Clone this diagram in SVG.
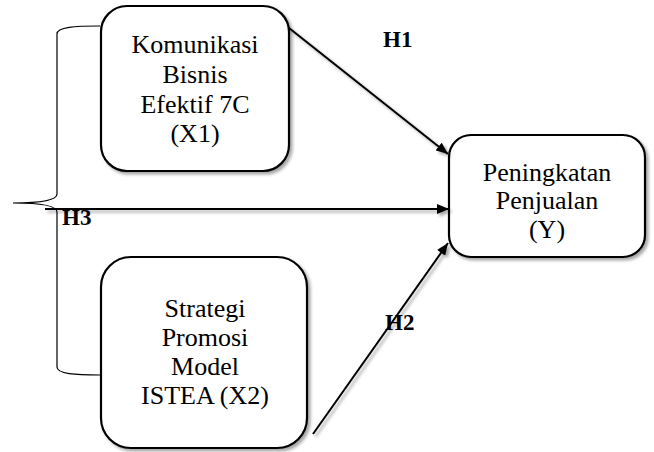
<svg xmlns="http://www.w3.org/2000/svg" width="654" height="452" viewBox="0 0 654 452">
<defs>
<filter id="sh" x="-10%" y="-10%" width="130%" height="130%">
<feDropShadow dx="2.5" dy="2.5" stdDeviation="1.6" flood-color="#000" flood-opacity="0.35"/>
</filter>
<marker id="ah" markerWidth="12" markerHeight="10" refX="12" refY="5" orient="auto" markerUnits="userSpaceOnUse">
<path d="M0,0 L12,5 L0,10 Z" fill="#000"/>
</marker>
</defs>
<style>
.box{fill:#fff;stroke:#000;stroke-width:2.2;filter:url(#sh)}
.t{font-family:"Liberation Serif","Times New Roman",serif;font-size:26px;fill:#000;text-anchor:middle}
.h{font-family:"Liberation Serif","Times New Roman",serif;font-size:23px;font-weight:bold;fill:#000}
.c{stroke:#000;stroke-width:2;fill:none;marker-end:url(#ah)}
</style>
<rect width="654" height="452" fill="#fff"/>
<path d="M100,26 C75,26 57,27 57,34 L57,194 C57,200 40,203 13,203 C40,203 57,206 57,212 L57,367 C57,374 75,375 100,375" fill="none" stroke="#000" stroke-width="1.2"/>
<g id="x1">
<rect class="box" x="101" y="6" width="188" height="165" rx="26"/>
<text class="t" x="195" y="53">Komunikasi</text>
<text class="t" x="195" y="83">Bisnis</text>
<text class="t" x="195" y="113">Efektif 7C</text>
<text class="t" x="195" y="142">(X1)</text>
</g>
<g id="x2">
<rect class="box" x="101" y="257" width="206" height="191" rx="30"/>
<text class="t" x="205" y="317">Strategi</text>
<text class="t" x="205" y="346">Promosi</text>
<text class="t" x="205" y="375">Model</text>
<text class="t" x="205" y="404">ISTEA (X2)</text>
</g>
<g id="y">
<rect class="box" x="449" y="135" width="196" height="122" rx="22"/>
<text class="t" x="547" y="181">Peningkatan</text>
<text class="t" x="547" y="209">Penjualan</text>
<text class="t" x="547" y="238">(Y)</text>
</g>
<g id="connectors" filter="url(#sh)">
<line class="c" x1="289" y1="28" x2="448" y2="154"/>
<line class="c" x1="45" y1="209" x2="449" y2="209"/>
<line class="c" x1="313" y1="434" x2="448" y2="243"/>
</g>
<g id="labels">
<text class="h" x="383" y="47">H1</text>
<text class="h" x="62" y="225">H3</text>
<text class="h" x="385" y="330">H2</text>
</g>
</svg>
